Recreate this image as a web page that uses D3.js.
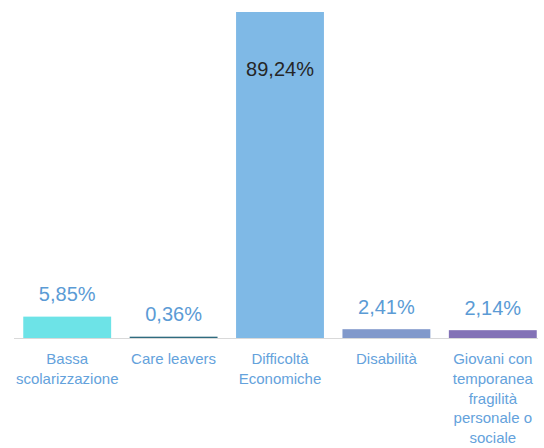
<!DOCTYPE html>
<html>
<head>
<meta charset="utf-8">
<script src="https://cdn.jsdelivr.net/npm/d3@7"></script>
<style>
  body { margin: 0; background: #fff; }
  svg { display: block; font-family: "Liberation Sans", Arial, sans-serif; }
</style>
</head>
<body>
<svg id="chart" width="544" height="448"></svg>
<script>
const categories = ['Bassa scolarizzazione', 'Care leavers', 'Difficoltà Economiche', 'Disabilità', 'Giovani con temporanea fragilità personale o sociale'];
const values = [5.85, 0.36, 89.24, 2.41, 2.14];
const valueLabels = ['5,85%', '0,36%', '89,24%', '2,41%', '2,14%'];
const barColors = ['#6de3e7', '#2f6b7f', '#7fb9e6', '#8199cb', '#8372b6'];

const width = 544, height = 448;
const margins = { left: 14, right: -2, bottom: 110, top: 12 };
const baseY = height - margins.bottom;

const svg = d3.select('#chart');

const x = d3.scaleBand()
  .domain(categories)
  .range([margins.left, width - margins.right])
  .paddingInner(0.174)
  .paddingOuter(0.087);

const y = d3.scaleLinear()
  .domain([0, d3.max(values)])
  .range([baseY, margins.top]);

// bars
svg.append('g').selectAll('rect')
  .data(values)
  .enter().append('rect')
  .attr('x', (d, i) => x(categories[i]))
  .attr('width', x.bandwidth())
  .attr('y', d => y(d))
  .attr('height', d => baseY - y(d))
  .attr('fill', (d, i) => barColors[i]);

// baseline
svg.append('line')
  .attr('x1', margins.left).attr('x2', 538)
  .attr('y1', baseY + 0.5).attr('y2', baseY + 0.5)
  .attr('stroke', '#d9d9d9')
  .attr('stroke-width', 1);

// value labels
svg.append('g').selectAll('text')
  .data(values)
  .enter().append('text')
  .attr('x', (d, i) => x(categories[i]) + x.bandwidth() / 2)
  .attr('y', d => d > 50 ? y(d) + 64 : y(d) - 15.5)
  .attr('text-anchor', 'middle')
  .attr('font-size', 20)
  .attr('fill', d => d > 50 ? '#262626' : '#5b9bd5')
  .text((d, i) => valueLabels[i]);

// category labels (axis ticks, wrapped)
const xAxis = d3.axisBottom(x).tickSize(0).tickPadding(0);
const axisG = svg.append('g')
  .attr('transform', 'translate(0,' + baseY + ')')
  .call(xAxis);
axisG.select('.domain').remove();

function wrap(text, maxW) {
  text.each(function () {
    const t = d3.select(this);
    const words = t.text().split(/\s+/);
    t.text(null);
    let line = [];
    let tspan = t.append('tspan').attr('x', 0).attr('dy', 0);
    words.forEach(w => {
      line.push(w);
      tspan.text(line.join(' '));
      if (tspan.node().getComputedTextLength() > maxW && line.length > 1) {
        line.pop();
        tspan.text(line.join(' '));
        line = [w];
        tspan = t.append('tspan').attr('x', 0).attr('dy', 19.8).text(w);
      }
    });
  });
}

axisG.selectAll('.tick text')
  .attr('y', 26)
  .attr('dy', 0)
  .attr('font-family', '"Liberation Sans", Arial, sans-serif')
  .attr('font-size', 15)
  .attr('fill', '#64a2dc')
  .call(wrap, 100);
</script>
</body>
</html>
